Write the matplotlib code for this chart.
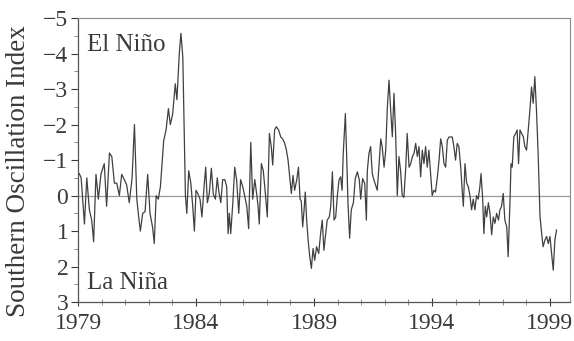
import matplotlib
matplotlib.use("Agg")
import matplotlib.pyplot as plt
from matplotlib.ticker import MultipleLocator

plt.rcParams['font.family'] = ['Liberation Serif', 'DejaVu Serif']

# Southern Oscillation Index (decimal year, index)
years = [1979.05, 1979.13, 1979.27, 1979.37, 1979.48, 1979.58, 1979.66, 1979.76, 1979.86, 1979.97,
         1980.11, 1980.21, 1980.33, 1980.43, 1980.54, 1980.64, 1980.75, 1980.85, 1980.96,
         1981.06, 1981.17, 1981.29, 1981.39, 1981.49, 1981.57, 1981.64, 1981.74, 1981.84, 1981.95,
         1982.05, 1982.16, 1982.23, 1982.31, 1982.40, 1982.49, 1982.56, 1982.63, 1982.73, 1982.83, 1982.91,
         1983.01, 1983.12, 1983.19, 1983.29, 1983.36, 1983.44, 1983.49, 1983.55, 1983.61, 1983.69,
         1983.78, 1983.86, 1983.93,
         1984.00, 1984.08, 1984.17, 1984.25, 1984.34, 1984.41, 1984.48, 1984.56, 1984.65, 1984.73,
         1984.82, 1984.90, 1984.97,
         1985.05, 1985.13, 1985.22, 1985.30, 1985.36, 1985.41, 1985.47, 1985.56, 1985.64, 1985.72,
         1985.81, 1985.89, 1985.98,
         1986.06, 1986.15, 1986.23, 1986.32, 1986.40, 1986.49, 1986.57, 1986.63, 1986.68, 1986.77,
         1986.85, 1986.94,
         1987.02, 1987.11, 1987.19, 1987.25, 1987.33, 1987.40, 1987.50, 1987.59, 1987.67, 1987.76,
         1987.83, 1987.90, 1987.97,
         1988.04, 1988.11, 1988.18, 1988.27, 1988.34, 1988.41, 1988.46, 1988.52, 1988.58, 1988.63,
         1988.69, 1988.75, 1988.82, 1988.89, 1988.96,
         1989.03, 1989.11, 1989.20, 1989.28, 1989.35, 1989.42, 1989.50, 1989.56, 1989.65, 1989.71,
         1989.78, 1989.85, 1989.92, 1989.99,
         1990.06, 1990.13, 1990.19, 1990.24, 1990.33, 1990.39, 1990.44, 1990.51, 1990.58, 1990.67,
         1990.75, 1990.84, 1990.92, 1990.98,
         1991.06, 1991.15, 1991.22, 1991.26, 1991.33, 1991.40, 1991.47, 1991.54, 1991.61, 1991.68,
         1991.75, 1991.83, 1991.89, 1991.97,
         1992.04, 1992.11, 1992.18, 1992.25, 1992.32, 1992.39, 1992.46, 1992.53, 1992.60, 1992.67,
         1992.74, 1992.81, 1992.89, 1992.95,
         1993.03, 1993.10, 1993.17, 1993.24, 1993.31, 1993.38, 1993.45, 1993.52, 1993.59, 1993.66,
         1993.73, 1993.80, 1993.87, 1993.94,
         1994.01, 1994.08, 1994.15, 1994.23, 1994.30, 1994.37, 1994.44, 1994.51, 1994.58, 1994.65,
         1994.72, 1994.79, 1994.86, 1994.93,
         1995.00, 1995.07, 1995.14, 1995.22, 1995.28, 1995.33, 1995.40, 1995.47, 1995.54, 1995.61,
         1995.68, 1995.75, 1995.82, 1995.89, 1995.96,
         1996.03, 1996.08, 1996.15, 1996.20, 1996.26, 1996.32, 1996.39, 1996.46, 1996.53, 1996.60,
         1996.67, 1996.74, 1996.82, 1996.88, 1996.95,
         1997.02, 1997.09, 1997.17, 1997.23, 1997.31, 1997.35, 1997.40, 1997.47, 1997.55, 1997.61,
         1997.67, 1997.73, 1997.80, 1997.87, 1997.94,
         1998.01, 1998.08, 1998.15, 1998.22, 1998.29, 1998.36, 1998.43, 1998.50, 1998.58, 1998.65,
         1998.71, 1998.79, 1998.86, 1998.93,
         1999.00, 1999.07, 1999.14, 1999.21, 1999.28]

soi = [-0.62, -0.5, 0.8, -0.5, 0.4, 0.7, 1.3, -0.6, 0.1, -0.6,
       -0.9, 0.3, -1.2, -1.1, -0.35, -0.35, 0.0, -0.6, -0.45,
       -0.3, 0.2, -0.5, -2.0, 0.1, 0.6, 1.0, 0.5, 0.45, -0.6,
       0.5, 0.9, 1.35, 0.0, 0.1, -0.25, -0.9, -1.55, -1.85, -2.45, -2.0,
       -2.3, -3.15, -2.7, -4.0, -4.57, -3.9, -2.1, 0.0, 0.5, -0.7,
       -0.35, 0.3, 1.0,
       -0.15, -0.05, 0.1, 0.6, -0.25, -0.8, 0.2, -0.05, -0.77, -0.05,
       0.1, -0.5, -0.1,
       0.2, -0.45, -0.45, -0.25, 1.07, 0.5, 1.07, 0.2, -0.8, -0.45,
       0.5, -0.45, -0.25,
       0.0, 0.3, 0.93, -1.5, 0.1, -0.45, -0.05, 0.3, 0.8, -0.9,
       -0.7, -0.05,
       0.6, -1.75, -1.37, -0.86, -1.85, -1.94, -1.85, -1.65, -1.6, -1.47,
       -1.28, -1.0, -0.53,
       -0.06, -0.57, -0.15, -0.45, -0.8, 0.1, 0.15, 0.88, 0.4, -0.1,
       0.7, 1.25, 1.72, 2.05, 1.49,
       1.82, 1.44, 1.63, 1.07, 0.69, 1.54, 1.07, 0.69, 0.6, 0.3,
       -0.67, 0.69, 0.6, 0.0,
       -0.44, -0.53, -0.15, -1.19, -2.31, -1.0, 0.2, 1.2, 0.4, 0.2,
       -0.48, -0.67, -0.44, 0.1,
       -0.48, -0.34, 0.69, -0.7, -1.19, -1.38, -0.62, -0.44, -0.3, -0.15,
       -0.8, -1.6, -1.38, -0.8,
       -1.28, -2.5, -3.25, -2.4, -1.66, -2.88, -1.75, 0.0, -1.1, -0.7,
       0.0, 0.05, -0.8, -1.75,
       -0.8, -0.9, -1.1, -1.19, -1.47, -1.1, -1.38, -0.53, -1.28, -0.9,
       -1.38, -0.8, -1.28, -0.62,
       0.0, -0.15, -0.1, -0.53, -1.0, -1.6, -1.38, -0.9, -0.8, -1.56,
       -1.65, -1.65, -1.65, -1.38,
       -1.0, -1.47, -1.38, -0.8, -0.15, 0.3, -0.9, -0.35, -0.25, 0.0,
       0.4, 0.1, 0.4, 0.0, 0.1,
       -0.25, -0.62, 0.1, 1.07, 0.3, 0.6, 0.2, 0.5, 1.1, 0.6,
       0.78, 0.5, 0.69, 0.4, 0.3,
       -0.06, 0.69, 0.88, 1.72, 0.1, -0.9, -0.8, -1.66, -1.75, -1.85,
       -0.9, -1.85, -1.75, -1.66, -1.38,
       -1.28, -1.85, -2.4, -3.06, -2.6, -3.35, -2.4, -1.19, 0.6, 1.07,
       1.44, 1.25, 1.15, 1.35,
       1.15, 1.63, 2.1, 1.25, 0.97]

year_ticks = [1979, 1984, 1989, 1994, 1999]
soi_ticks = [-5, -4, -3, -2, -1, 0, 1, 2, 3]

ink = '#3a3a3a'

fig = plt.figure(figsize=(5.74, 3.41), dpi=100)
ax = fig.add_axes([0.136, 0.114, 0.857, 0.833])

ax.axhline(0, color='#9a9a9a', lw=0.9, zorder=1)
ax.plot(years, soi, color='#404040', lw=0.9, zorder=2)

ax.set_xlim(1979, 1999.85)
ax.set_ylim(3, -5)

ax.set_xticks(year_ticks)
ax.set_yticks(soi_ticks)
ax.xaxis.set_minor_locator(MultipleLocator(1))
ax.yaxis.set_minor_locator(MultipleLocator(0.5))
ax.tick_params(axis='both', which='major', labelsize=17, colors=ink, width=0.8)
ax.tick_params(axis='x', which='major', direction='inout', length=6, pad=5)
ax.tick_params(axis='x', which='minor', direction='inout', length=4, width=0.6, color='#777777')
ax.tick_params(axis='y', which='major', direction='out', length=5, pad=2)
ax.tick_params(axis='y', which='minor', direction='out', length=3, width=0.6, color='#777777')

ax.set_ylabel('Southern Oscillation Index', fontsize=19.5, color=ink)
ax.yaxis.set_label_coords(-0.096, 0.46)

ax.text(0.018, 0.905, 'El Niño', transform=ax.transAxes, fontsize=18, color=ink, va='center')
ax.text(0.018, 0.068, 'La Niña', transform=ax.transAxes, fontsize=18, color=ink, va='center')

for side in ['left', 'bottom']:
    ax.spines[side].set_color('#555555')
    ax.spines[side].set_linewidth(0.9)
for side in ['top', 'right']:
    ax.spines[side].set_color('#8a8a8a')
    ax.spines[side].set_linewidth(0.8)

fig.savefig('out.png', dpi=100)
